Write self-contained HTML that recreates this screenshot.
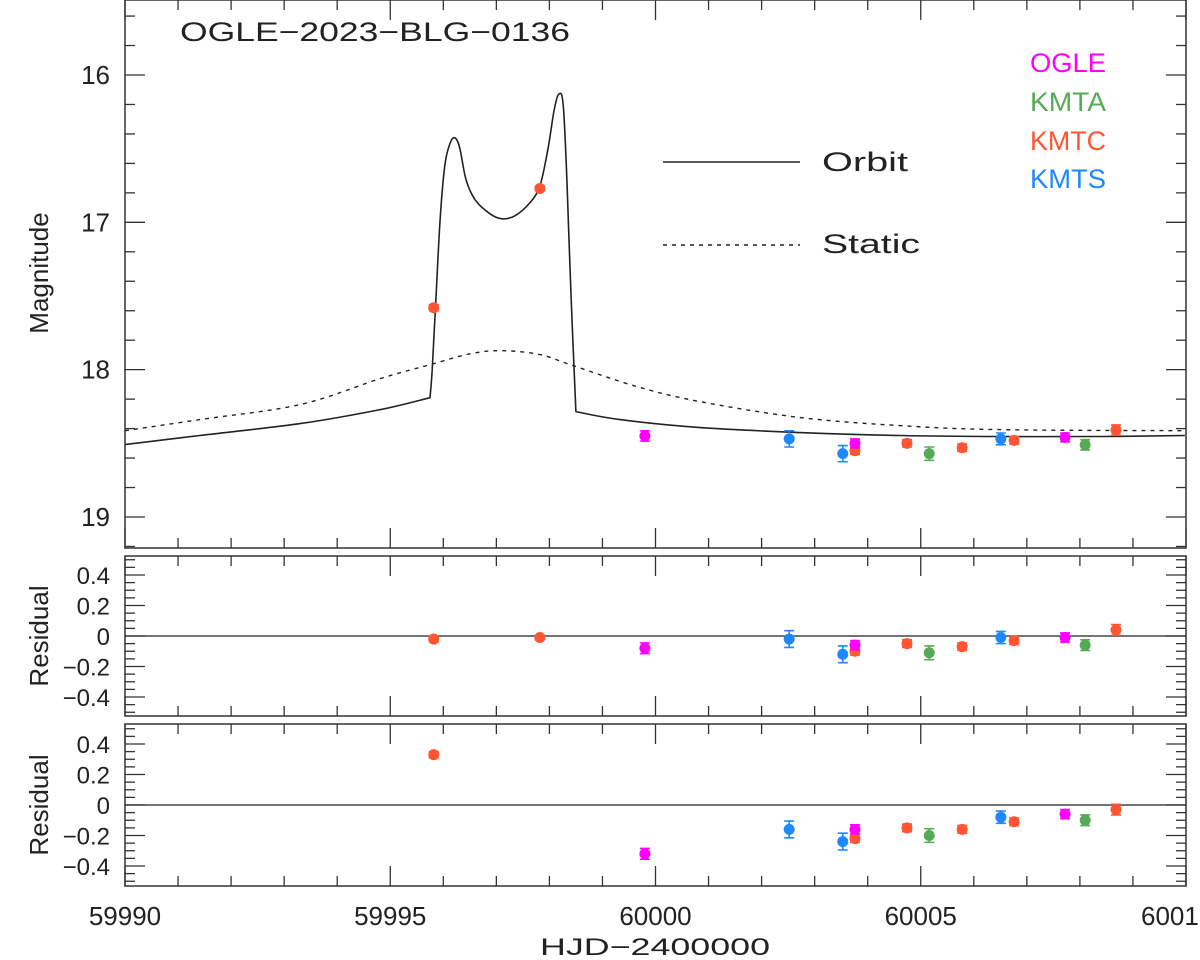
<!DOCTYPE html>
<html><head><meta charset="utf-8"><style>
html,body{margin:0;padding:0;background:#fff;}
svg{display:block;font-family:"Liberation Sans",sans-serif;}
</style></head><body>
<svg id="chart" width="1200" height="960" viewBox="0 0 1200 960">
<g id="frames"></g>
<g id="curves"></g>
<g id="points"></g>
<g id="labels"></g>
</svg>
<script>
// ---- data ----
const orbitDays=[59990.00,59991.41,59993.30,59994.81,59995.75,59995.79,59995.86,59995.94,59996.03,59996.13,59996.22,59996.31,59996.43,59996.60,59996.88,59997.11,59997.35,59997.63,59997.82,59997.97,59998.09,59998.18,59998.26,59998.33,59998.41,59998.50,59999.33,60000.84,60002.72,60004.61,60006.49,60008.38,60009.98];
const orbitMags=[18.508,18.447,18.366,18.271,18.190,18.000,17.525,16.983,16.610,16.461,16.427,16.495,16.712,16.847,16.942,16.976,16.956,16.868,16.753,16.508,16.237,16.129,16.203,16.712,17.525,18.285,18.339,18.393,18.427,18.447,18.454,18.454,18.447];
const orbitBreaks=[4,25];
const staticDays=[59990.00,59991.41,59993.30,59994.81,59995.75,59996.51,59997.11,59997.82,59998.45,59999.65,60000.84,60002.72,60004.61,60006.49,60009.98];
const staticMags=[18.414,18.339,18.237,18.061,17.966,17.892,17.871,17.898,17.973,18.115,18.217,18.325,18.380,18.407,18.414];

const kmtcDays=[59995.82,59997.82,60003.76,60004.74,60005.78,60006.76,60008.68];
const kmtcMag=[17.58,16.77,18.55,18.50,18.53,18.48,18.41];
const kmtcErr=[0.02,0.015,0.025,0.025,0.025,0.025,0.035];
const kmtcRes1=[-0.02,-0.01,-0.10,-0.05,-0.07,-0.03,0.04];
const kmtcRes2=[0.33,null,-0.22,-0.15,-0.16,-0.11,-0.03];

const ogleDays=[59999.80,60003.76,60007.72];
const ogleMag=[18.45,18.50,18.46];
const ogleErr=[0.035,0.03,0.03];
const ogleRes1=[-0.08,-0.06,-0.01];
const ogleRes2=[-0.32,-0.16,-0.06];

const kmtsDays=[60002.52,60003.53,60006.51];
const kmtsMag=[18.47,18.57,18.47];
const kmtsErr=[0.055,0.055,0.04];
const kmtsRes1=[-0.02,-0.12,-0.01];
const kmtsRes2=[-0.16,-0.24,-0.08];

const kmtaDays=[60005.16,60008.10];
const kmtaMag=[18.57,18.51];
const kmtaErr=[0.045,0.035];
const kmtaRes1=[-0.11,-0.06];
const kmtaRes2=[-0.20,-0.10];

const xTickLabels=["59990","59995","60000","60005","6001"];
const magTickLabels=["16","17","18","19"];
const resTickLabels=["0.4","0.2","0","\u22120.2","\u22120.4"];

// ---- scales ----
const NS="http://www.w3.org/2000/svg";
const X0=125,X1=1186;
const xs=d=>X0+(d-59990)*(X1-X0)/20;
const ym=m=>75+(m-16)*147.33;
const r1=v=>636-v*152.5;
const r2=v=>805-v*152.5;
const P={main:[0,548],r1:[556,716],r2:[724,886]};
function mk(tag,attrs,parent){const e=document.createElementNS(NS,tag);for(const k in attrs)e.setAttribute(k,attrs[k]);parent.appendChild(e);return e;}
const frames=document.getElementById('frames'),curves=document.getElementById('curves'),pts=document.getElementById('points'),labels=document.getElementById('labels');

function panel(name,top,bot,yTicks){
  const g=mk('g',{},frames);
  
  
  const r=mk('rect',{x:X0,y:top,width:X1-X0,height:bot-top,fill:'none',stroke:'#333','stroke-width':1.5},g);
  
  
  for(let d=59990;d<=60010;d++){
    const L=(d%5===0)?20:10,x=xs(d);
    mk('line',{x1:x,y1:bot,x2:x,y2:bot-L,stroke:'#333','stroke-width':1.3},g);
    mk('line',{x1:x,y1:top,x2:x,y2:top+L,stroke:'#333','stroke-width':1.3},g);
  }
  yTicks.forEach(([y,L])=>{
    if(y<top||y>bot)return;
    mk('line',{x1:X0,y1:y,x2:X0+L,y2:y,stroke:'#333','stroke-width':1.3},g);
    mk('line',{x1:X1,y1:y,x2:X1-L,y2:y,stroke:'#333','stroke-width':1.3},g);
  });
}
const mainTicks=[];for(let m=15.6;m<=19.25;m+=0.2){const mm=Math.round(m*10)/10;mainTicks.push([ym(mm),Math.abs(mm-Math.round(mm))<0.01?20:10]);}
panel('main',P.main[0],P.main[1],mainTicks);
const rt1=[],rt2=[];for(let i=-10;i<=10;i++){const v=i*0.05;const L=(i%4===0)?20:10;rt1.push([r1(v),L]);rt2.push([r2(v),L]);}
panel('residual-orbit',P.r1[0],P.r1[1],rt1);
panel('residual-static',P.r2[0],P.r2[1],rt2);

[r1,r2].forEach((f,i)=>{const l=mk('line',{x1:X0,y1:f(0),x2:X1,y2:f(0),stroke:'#222','stroke-width':1.3},curves);

});

// Catmull-Rom smooth path with corner breaks
function smoothPath(ds,ms,breaks){
  const all=ds.map((d,i)=>[xs(d),ym(ms[i])]);
  const cuts=[0].concat(breaks||[]).concat([all.length-1]);
  let s='M'+all[0][0].toFixed(1)+','+all[0][1].toFixed(1);
  for(let k=0;k<cuts.length-1;k++){
    const p=all.slice(cuts[k],cuts[k+1]+1);
    for(let i=0;i<p.length-1;i++){
      const a=p[Math.max(0,i-1)],b=p[i],c=p[i+1],d=p[Math.min(p.length-1,i+2)];
      const t=0.5/3;
      const c1=[b[0]+(c[0]-a[0])*t,b[1]+(c[1]-a[1])*t];
      const c2=[c[0]-(d[0]-b[0])*t,c[1]-(d[1]-b[1])*t];
      s+=`C${c1[0].toFixed(1)},${c1[1].toFixed(1)} ${c2[0].toFixed(1)},${c2[1].toFixed(1)} ${c[0].toFixed(1)},${c[1].toFixed(1)}`;
    }
  }
  return s;
}
const oc=mk('path',{d:smoothPath(orbitDays,orbitMags,orbitBreaks),fill:'none',stroke:'#222','stroke-width':1.6,'stroke-linejoin':'round'},curves);


const sc=mk('path',{d:smoothPath(staticDays,staticMags,[]),fill:'none',stroke:'#222','stroke-width':1.4,'stroke-dasharray':'4,5'},curves);



function series(name,color,days,mag,err,res1,res2){
  days.forEach((d,i)=>{
    const x=xs(d);
    [[mag[i],ym,147.33,'main'],[res1[i],r1,152.5,'res1'],[res2[i],r2,152.5,'res2']].forEach(([v,f,s,pn])=>{
      if(v===null||v===undefined)return;
      const y=f(v),e=err[i]*s;
      const g=mk('g',{},pts);
      
      
      mk('path',{d:`M${x},${y-e}V${y+e}M${x-5},${y-e}H${x+5}M${x-5},${y+e}H${x+5}`,stroke:color,'stroke-width':1.6,fill:'none'},g);
      mk('circle',{cx:x,cy:y,r:5.5,fill:color},g);
    });
  });
}
series('kmtc','#ff5533',kmtcDays,kmtcMag,kmtcErr,kmtcRes1,kmtcRes2);
series('ogle','#ff00ff',ogleDays,ogleMag,ogleErr,ogleRes1,ogleRes2);
series('kmts','#1e88ff',kmtsDays,kmtsMag,kmtsErr,kmtsRes1,kmtsRes2);
series('kmta','#55aa55',kmtaDays,kmtaMag,kmtaErr,kmtaRes1,kmtaRes2);

function txt(s,attrs,name){const t=mk('text',Object.assign({'font-size':26,fill:'#222'},attrs),labels);t.textContent=s;

return t;}
const SG='spacingAndGlyphs';
xTickLabels.forEach((s,i)=>{const t=txt(s,{x:xs(59990+5*i),y:925,'text-anchor':i===4?'start':'middle'},'x-tick-label');if(i===4)t.setAttribute('x',xs(60010)-45);});
magTickLabels.forEach((s,i)=>txt(s,{x:110,y:ym(16+i)+9,'text-anchor':'end'},'y-tick-label'));
resTickLabels.forEach((s,i)=>{const v=0.4-0.2*i;txt(s,{x:110,y:r1(v)+9,'text-anchor':'end','font-size':24},'residual1-tick-label');txt(s,{x:110,y:r2(v)+9,'text-anchor':'end','font-size':24},'residual2-tick-label');});
txt('HJD\u22122400000',{x:540,y:955,'font-size':24,textLength:230,lengthAdjust:SG},'x-axis-title');
txt('Magnitude',{x:0,y:0,transform:'translate(48,273) rotate(-90)','text-anchor':'middle'},'y-axis-title');
txt('Residual',{x:0,y:0,transform:'translate(48,636) rotate(-90)','text-anchor':'middle'},'residual1-axis-title');
txt('Residual',{x:0,y:0,transform:'translate(48,805) rotate(-90)','text-anchor':'middle'},'residual2-axis-title');
txt('OGLE\u22122023\u2212BLG\u22120136',{x:180,y:41,'font-size':27,textLength:390,lengthAdjust:SG},'event-title');
const lo=mk('line',{x1:663,y1:162,x2:800,y2:162,stroke:'#222','stroke-width':1.6},labels);


const ls=mk('line',{x1:663,y1:245,x2:800,y2:245,stroke:'#222','stroke-width':1.4,'stroke-dasharray':'4,5'},labels);


txt('Orbit',{x:822,y:171,'font-size':27,textLength:86,lengthAdjust:SG},'legend-orbit-label');
txt('Static',{x:822,y:253,'font-size':27,textLength:98,lengthAdjust:SG},'legend-static-label');
[['OGLE','#ff00ff',72],['KMTA','#55aa55',111],['KMTC','#ff5533',150],['KMTS','#1e88ff',188]].forEach(([s,c,y])=>{
  txt(s,{x:1030,y:y,fill:c,'font-size':27,textLength:76,lengthAdjust:SG},'legend-'+s.toLowerCase());
});
</script>
</body></html>
